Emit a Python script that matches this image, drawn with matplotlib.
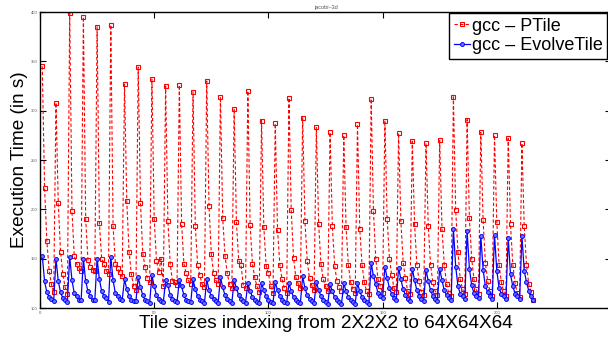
import numpy as np
import matplotlib
matplotlib.use('Agg')
import matplotlib.pyplot as plt

plt.rcParams['font.family'] = ['Liberation Sans', 'DejaVu Sans']

# execution time per tile configuration (6 inner sizes x 36 outer combos)
ptile = [
    345, 222, 168, 138, 124, 116,
    308, 206, 157, 134, 121, 114,
    399, 198, 153, 145, 141, 137,
    395, 190, 149, 142, 139, 137,
    385, 186, 150, 145, 138, 134,
    387, 183, 145, 141, 136, 132,
    327, 208, 157, 134, 122, 118,
    344, 206, 155, 142, 130, 126,
    332, 190, 148, 136, 150, 122,
    325, 188, 145, 127, 126, 123,
    326, 185, 145, 135, 128, 124,
    319, 183, 144, 133, 124, 121,
    330, 203, 155, 135, 128, 124,
    314, 191, 153, 135, 124, 120,
    302, 187, 148, 144, 123, 120,
    320, 184, 145, 131, 122, 116,
    290, 182, 143, 135, 122, 115,
    287, 179, 144, 129, 120, 115,
    313, 199, 151, 131, 125, 120,
    293, 188, 148, 130, 123, 118,
    283, 185, 145, 129, 122, 117,
    278, 183, 143, 127, 121, 117,
    275, 182, 144, 126, 119, 115,
    286, 180, 144, 126, 117, 114,
    312, 198, 150, 129, 122, 115,
    290, 190, 150, 133, 120, 116,
    277, 188, 146, 130, 117, 114,
    269, 185, 144, 127, 116, 113,
    267, 183, 144, 126, 117, 113,
    270, 180, 144, 124, 115, 112,
    314, 199, 157, 129, 119, 114,
    291, 191, 150, 129, 119, 114,
    278, 189, 146, 127, 117, 112,
    275, 187, 144, 126, 117, 112,
    272, 185, 144, 125, 115, 111,
    267, 183, 144, 124, 116, 108,
]

evolve = [
    153, 127, 116, 111, 109, 107,
    150, 127, 116, 110, 108.5, 106.5,
    152, 128, 115, 112, 108.5, 108,
    150, 127, 117, 112, 108, 108,
    150, 129, 117, 112, 110, 106.5,
    152, 128, 115, 112, 109.5, 108.5,
    129, 119, 112, 108, 107, 107,
    131, 121, 113, 108, 107, 105,
    133, 122, 113, 109, 107, 106,
    128, 123, 113, 109, 107, 106,
    128, 122, 113, 108, 107, 106,
    129, 119, 112, 108, 107, 105,
    129, 118, 112, 109, 107, 105,
    131, 121, 113, 109, 107, 105.5,
    128, 120, 113, 109, 107, 105.5,
    125, 117, 111, 108, 106, 105,
    125, 118, 112, 108, 106, 105,
    126, 118, 112, 108, 106, 105,
    125, 117, 111, 108, 106, 105,
    132, 120, 113, 109, 107, 105,
    126, 118, 112, 108, 106, 104.5,
    124, 117, 111, 108, 106, 104,
    125, 117, 111, 108, 106, 104.5,
    125, 117, 111, 108, 106, 104.5,
    146, 132, 124, 115, 112, 110,
    142, 130, 120, 114.5, 110, 108.5,
    141, 129, 119, 113, 109, 107.5,
    140, 128, 118, 112, 109, 107,
    139, 127, 118, 112, 109, 107,
    140, 128, 118, 113, 110, 108,
    180, 142, 122, 114.5, 112, 109.5,
    178, 140, 123, 115, 112, 110,
    173, 139, 122, 116, 112, 109.5,
    174, 138, 120, 114.5, 112, 109.5,
    171, 134, 122, 114.5, 112, 109.5,
    173, 138, 126, 117.5, 112, 108.4,
]

x_ticks = [0, 50, 100, 150, 200, 250]
x_labels = ['0', '50', '100', '150', '200', '']
y_ticks = [100, 150, 200, 250, 300, 350, 400]

idx = np.arange(1, len(ptile) + 1)

fig = plt.figure(figsize=(6.08, 3.39), dpi=100)
ax = fig.add_axes([40 / 608, 31 / 339, 571 / 608, 296 / 339])

ax.plot(idx, ptile, color='red', linestyle=(0, (3, 2)), linewidth=0.8,
        marker='s', markersize=2.8, markerfacecolor='none', markeredgewidth=0.8,
        label='gcc – PTile')
ax.plot(idx, evolve, color='blue', linestyle='-', linewidth=0.9,
        marker='o', markersize=2.8, markerfacecolor=(0.45, 0.45, 1.0),
        markeredgewidth=0.7, label='gcc – EvolveTile')

ax.set_xlim(0, 250)
ax.set_ylim(100, 400)
ax.set_xticks(x_ticks)
ax.set_xticklabels(x_labels)
ax.set_yticks(y_ticks)
ax.tick_params(direction='in', top=True, right=True, labelsize=3,
               labelcolor='#555555', length=4, width=0.8, pad=2)
for s in ax.spines.values():
    s.set_linewidth(1.0)

ax.set_title('jacobi–3d', fontsize=4, color='#555555', pad=2)
ax.set_xlabel('Tile sizes indexing from 2X2X2 to 64X64X64', fontsize=13.7, labelpad=0)
ax.set_ylabel('Execution Time (in s)', fontsize=13.7, labelpad=2)

leg = ax.legend(loc='upper left', bbox_to_anchor=(449 / 608, 1 - 13 / 339),
                bbox_transform=fig.transFigure, fontsize=13,
                frameon=True, fancybox=False, borderpad=0.25, labelspacing=0.15,
                handlelength=0.9, handletextpad=0.1, borderaxespad=0.0)
leg.get_frame().set_edgecolor('black')
leg.get_frame().set_linewidth(1.0)
leg.get_frame().set_alpha(1.0)

fig.savefig('out.png', dpi=100)
